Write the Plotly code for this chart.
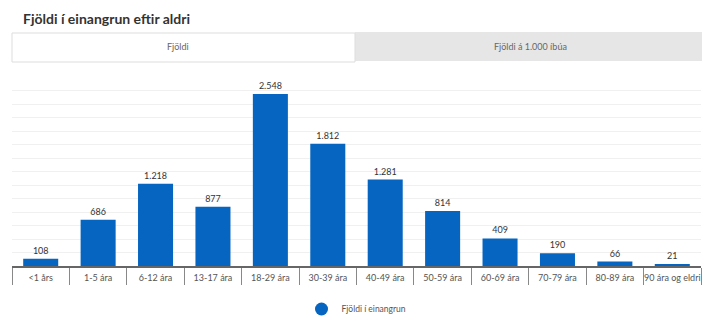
import plotly.graph_objects as go

categories = ["<1 års", "1-5 ára", "6-12 ára", "13-17 ára", "18-29 ára", "30-39 ára",
              "40-49 ára", "50-59 ára", "60-69 ára", "70-79 ára", "80-89 ára", "90 ára og eldri"]
values = [108, 686, 1218, 877, 2548, 1812, 1281, 814, 409, 190, 66, 21]
series_name = "Fjöldi í einangrun"
title_text = "Fjöldi í einangrun eftir aldri"
tab_labels = ["Fjöldi", "Fjöldi á 1.000 íbúa"]

W, H = 713, 321
L, R, T, B = 12, 12, 77, 55
pw = W - L - R
ph = H - T - B

def px_x(x):
    return (x - L) / pw

def px_y(y):
    return (H - B - y) / ph

BLUE = "#0565c0"
FONT = "Lato"

fig = go.Figure()
fig.add_trace(go.Bar(
    x=categories, y=values, marker_color=BLUE, marker_line_width=0,
    texttemplate="%{y:,}", textposition="outside",
    textfont=dict(size=9, color="#333333", family=FONT),
    cliponaxis=False, showlegend=False, name=series_name,
))
fig.add_trace(go.Scatter(
    x=[None], y=[None], mode="markers", name=series_name,
    marker=dict(color=BLUE, size=13, symbol="circle"),
))

shapes = [
    dict(type="rect", xref="paper", yref="paper",
         x0=px_x(355), x1=px_x(702), y0=px_y(61), y1=px_y(32),
         fillcolor="#e6e6e6", line=dict(width=0), layer="below"),
    dict(type="rect", xref="paper", yref="paper",
         x0=px_x(12), x1=px_x(355), y0=px_y(62), y1=px_y(33),
         fillcolor="#ffffff", line=dict(color="#dddddd", width=1), layer="below"),
]
annotations = [
    dict(text=title_text, xref="paper", yref="paper", x=px_x(21), y=px_y(18),
         xanchor="left", yanchor="middle", showarrow=False,
         font=dict(family=FONT, size=14, color="#333333", weight="bold")),
    dict(text=tab_labels[0], xref="paper", yref="paper", x=px_x(178), y=px_y(46),
         xanchor="center", yanchor="middle", showarrow=False,
         font=dict(family=FONT, size=9, color="#666666")),
    dict(text=tab_labels[1], xref="paper", yref="paper", x=px_x(530), y=px_y(46),
         xanchor="center", yanchor="middle", showarrow=False,
         font=dict(family=FONT, size=9, color="#666666")),
]

fig.update_layout(
    width=W, height=H,
    margin=dict(l=L, r=R, t=T, b=B, pad=0, autoexpand=False),
    paper_bgcolor="white", plot_bgcolor="white",
    separators=",.",
    bargap=0.39,
    shapes=shapes, annotations=annotations,
    showlegend=True,
    legend=dict(orientation="h", x=0.5, xanchor="center", y=px_y(309), yanchor="middle",
                font=dict(family=FONT, size=8.5, color="#555555"), itemwidth=30),
    font=dict(family=FONT),
)
fig.update_xaxes(
    type="category", tickson="boundaries", ticks="outside", ticklen=17,
    tickcolor="#888888", tickwidth=1, ticklabelstandoff=2, tickangle=0,
    automargin=False,
    showline=True, linecolor="#666666", linewidth=2,
    tickfont=dict(size=9, color="#555555", family=FONT),
    showgrid=False, fixedrange=True,
)
fig.update_yaxes(
    range=[0, 2800], dtick=200, showticklabels=False, automargin=False,
    showgrid=True, gridcolor="#f0f0f0", gridwidth=1,
    zeroline=False, showline=False, fixedrange=True,
)

fig.write_html("out.html")
